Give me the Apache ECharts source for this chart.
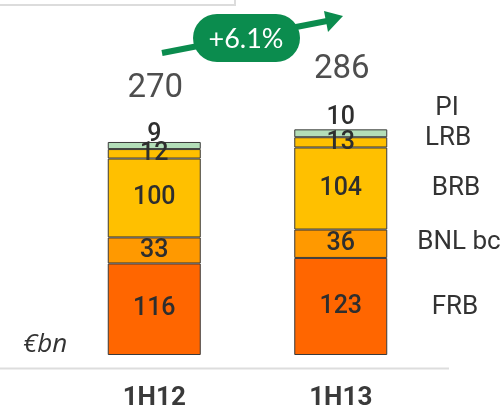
<!DOCTYPE html>
<html>
<head>
<meta charset="utf-8">
<script src="https://cdn.jsdelivr.net/npm/echarts@6/dist/echarts.min.js"></script>
<style>
html,body{margin:0;padding:0;background:#fff;}
#c{width:503px;height:411px;}
</style>
</head>
<body>
<div id="c"></div>
<script>
var categories = ['1H12', '1H13'];
var seriesNames = ['FRB', 'BNL bc', 'BRB', 'LRB', 'PI'];
var frb = [116, 123];
var bnl = [33, 36];
var brb = [100, 104];
var lrb = [12, 13];
var pi = [9, 10];
var totals = [270, 286];
var growthLabel = '+6.1%';
var unitLabel = '€bn';

var colors = ['#FF6600', '#FF9900', '#FFC000', '#FFC000', '#B3DEB8'];
var values = [frb, bnl, brb, lrb, pi];
var NARROW = "Roboto, 'Liberation Sans Narrow', sans-serif";

var chart = echarts.init(document.getElementById('c'), null, {renderer: 'canvas'});

var series = values.map(function (arr, i) {
  var isPI = i === 4;
  return {
    name: seriesNames[i],
    type: 'bar',
    stack: 'total',
    barWidth: 93,
    itemStyle: {color: colors[i], borderColor: '#3a3a3a', borderWidth: 1},
    label: {
      show: true,
      position: isPI ? 'top' : 'inside',
      distance: 1,
      color: '#2e2e2e',
      fontFamily: NARROW,
      fontWeight: 500,
      fontSize: 25,
      formatter: '{c}'
    },
    data: arr.map(function (v, j) {
      if (isPI) return {value: v, label: {distance: j === 0 ? -5 : -1}};
      return v;
    })
  };
});

series.push({
  name: 'Total',
  type: 'scatter',
  symbolSize: 0,
  silent: true,
  label: {
    show: true,
    position: 'top',
    distance: 0,
    color: '#222',
    fontFamily: NARROW,
    fontSize: 33,
    formatter: '{c}'
  },
  data: totals.map(function (v, j) {
    return {value: v, label: {offset: [1, j === 0 ? -37 : -43]}};
  })
});

var rightLabelPos = [[455, 307], [459, 242], [456, 188], [448, 138], [447, 108]];
var graphics = [
  {type: 'rect', shape: {x: -2, y: -10, width: 237, height: 15}, style: {fill: 'none', stroke: '#dcdcdc', lineWidth: 2}},
  {type: 'line', shape: {x1: 0, y1: 368.5, x2: 449, y2: 368.5}, style: {stroke: '#dddddd', lineWidth: 2}},
  {type: 'line', shape: {x1: 162, y1: 53, x2: 327, y2: 21}, style: {stroke: '#0B8C4E', lineWidth: 6}},
  {type: 'polygon', shape: {points: [[343, 16], [324, 11], [328, 32]]}, style: {fill: '#0B8C4E'}},
  {type: 'rect', shape: {x: 193, y: 14, width: 107, height: 48, r: 24}, style: {fill: '#0B8C4E'}},
  {type: 'text', x: 246, y: 39, style: {text: growthLabel, fill: '#fff', font: "27px Lato, 'Open Sans', sans-serif", textAlign: 'center', textVerticalAlign: 'middle'}},
  {type: 'text', x: 23, y: 345, style: {text: unitLabel, fill: '#333', font: "italic 26px 'Open Sans', Lato, sans-serif", textAlign: 'left', textVerticalAlign: 'middle'}}
];
seriesNames.forEach(function (n, i) {
  graphics.push({type: 'text', x: rightLabelPos[i][0], y: rightLabelPos[i][1],
    style: {text: n, fill: '#333', font: "26px Roboto, sans-serif", textAlign: 'center', textVerticalAlign: 'middle'}});
});

chart.setOption({
  animation: false,
  grid: {left: 61, right: 503 - 434, top: 39.4, bottom: 50, containLabel: false},
  xAxis: {
    type: 'category',
    data: categories,
    axisLine: {show: false},
    axisTick: {show: false},
    axisLabel: {
      margin: 30,
      color: '#3a3a3a',
      fontFamily: NARROW,
      fontWeight: 'bold',
      fontSize: 26
    }
  },
  yAxis: {
    type: 'value',
    min: 0,
    max: 400,
    show: false,
    splitLine: {show: false}
  },
  series: series,
  graphic: graphics
});
</script>
</body>
</html>
